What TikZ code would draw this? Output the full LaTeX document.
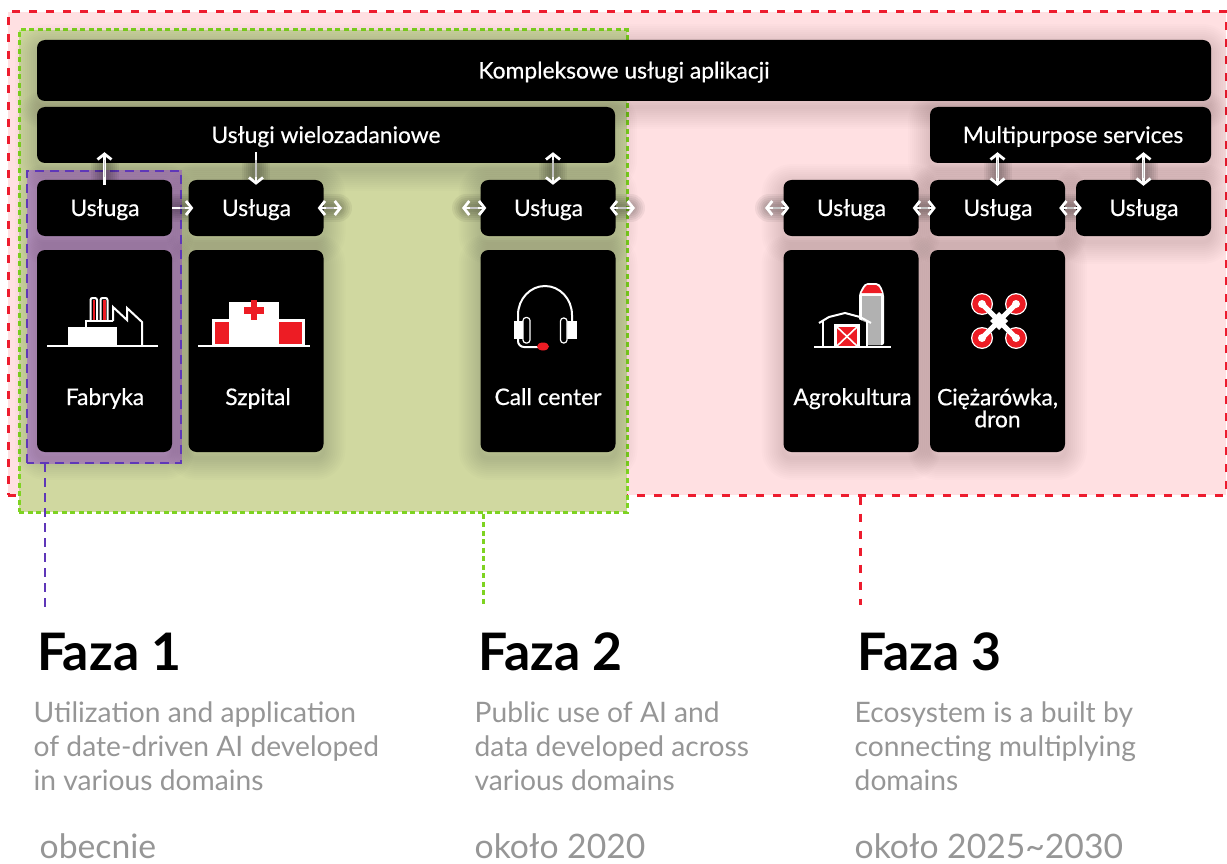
\documentclass[tikz,border=0pt]{standalone}
\usepackage{fontspec}
\setmainfont{Lato}
\newfontfamily\boxfont{Lato}[RawFeature={embolden=0.5}]
\usetikzlibrary{arrows.meta}
\definecolor{redline}{RGB}{237,28,46}
\definecolor{greenline}{RGB}{126,211,33}
\definecolor{purpleline}{RGB}{95,55,184}
\definecolor{redfill}{RGB}{255,224,226}
\definecolor{greenfill}{RGB}{208,216,160}
\definecolor{purplefill}{RGB}{192,150,202}
\definecolor{graytext}{RGB}{150,150,150}
\definecolor{iconred}{RGB}{237,28,36}
\tikzset{
	softbox/.style={preaction={draw=black, fill=none, opacity=.01, line width=#1pt, line join=round, transform canvas={yshift=-6pt}}},
	softlink/.style={preaction={draw=black, opacity=.05, line width=#1pt, line cap=round, -, shorten <=4pt, shorten >=4pt}},
	box/.style={fill=black, rounded corners=8pt, text=white, font=\boxfont\fontsize{22.8}{24}\selectfont, align=center, inner sep=0pt, text height=20pt, text depth=4pt, softbox/.list={44,40,36,32,28,24,20,16,12,8,4}},
	uslugabox/.style={box, minimum width=135pt, minimum height=56pt},
	domainbox/.style={box, minimum width=135pt, minimum height=202pt},
	boxlabel/.style={text=white, font=\boxfont\fontsize{22.8}{22}\selectfont, align=center, inner sep=0pt},
	link/.style={draw=white, line width=2.6pt, arrows={Straight Barb[length=5.5pt,width=14pt,line width=2.8pt]-Straight Barb[length=5.5pt,width=14pt,line width=2.8pt]}, softlink/.list={28,24,20,16,12,8}, postaction={draw=gray!45, line width=1.2pt, -, shorten <=8pt, shorten >=8pt}},
	linkr/.style={link, arrows={-Straight Barb[length=5.5pt,width=14pt,line width=2.8pt]}},
	fazatitle/.style={anchor=base west, inner sep=0pt, font=\fontsize{51.7}{54}\selectfont\bfseries},
	fazatext/.style={anchor=north west, inner sep=0pt, text=graytext, align=left, font=\fontsize{28.2}{34}\selectfont},
	fazadate/.style={anchor=base west, inner sep=0pt, text=graytext, font=\fontsize{33.7}{34}\selectfont},
	iconline/.style={draw=white, line width=2pt},
}
\begin{document}
\begin{tikzpicture}[x=1pt, y=-1pt]
	
	\useasboundingbox (0,0) rectangle (1227,864);
	
	\node[draw=redline, line width=3pt, dash pattern=on 8pt off 9pt, fill=redfill, minimum width=1218pt, minimum height=483pt, inner sep=0pt] (phase3) at (617,253.5) {};
	\node[draw=greenline, line width=3pt, dash pattern=on 5pt off 3.5pt, fill=greenfill, minimum width=608pt, minimum height=482pt, inner sep=0pt] (phase2) at (323,271) {};
	\node[draw=purplefill, line width=0pt, fill=purplefill, minimum width=154pt, minimum height=292pt, inner sep=0pt] (phase1) at (104,317) {};
	
	\coordinate (end1) at (45,607);
	\coordinate (end2) at (483.5,605);
	\coordinate (end3) at (860,605);
	\draw[greenline, line width=3pt, dash pattern=on 5pt off 3.5pt] (end2 |- phase2.south) -- (end2);
	\draw[redline, line width=3pt, dash pattern=on 8pt off 9pt] (end3 |- phase3.south) -- (end3);
	
	\node[box, minimum width=1174pt, minimum height=61pt] (allapps) at (624,70.5) {Kompleksowe usługi aplikacji};
	\node[box, minimum width=578pt, minimum height=56pt] (multi1) at (326,135) {Usługi wielozadaniowe};
	\node[box, minimum width=281pt, minimum height=56pt] (multi2) at (1070.5,135) {\hspace*{5pt}Multipurpose services};
	
	\node[uslugabox] (us1) at (104.5,208) {\hspace*{1pt}Usługa};
	\node[uslugabox] (us2) at (256,208) {\hspace*{1pt}Usługa};
	\node[uslugabox] (us3) at (548,208) {\hspace*{1pt}Usługa};
	\node[uslugabox] (us4) at (851,208) {\hspace*{1pt}Usługa};
	\node[uslugabox] (us5) at (997.5,208) {\hspace*{1pt}Usługa};
	\node[uslugabox] (us6) at (1143.5,208) {\hspace*{1pt}Usługa};
	
	\node[domainbox] (dom1) at (104.5,351) {};
	\node[domainbox] (dom2) at (256,351) {};
	\node[domainbox] (dom3) at (548,351) {};
	\node[domainbox] (dom4) at (851,351) {};
	\node[domainbox] (dom5) at (997.5,351) {};
	
	\draw[purpleline, line width=2.6pt, dash pattern=on 9pt off 6pt] (phase1.south west) rectangle (phase1.north east);
	\draw[purpleline, line width=2.6pt, dash pattern=on 9pt off 6pt] (end1 |- phase1.south) -- (end1);
	
	\node[boxlabel, anchor=base] (lab1) at (105,405) {Fabryka};
	\node[boxlabel, anchor=base] (lab2) at (258,405) {Szpital};
	\node[boxlabel, anchor=base] (lab3) at (548,405) {Call center};
	\node[boxlabel, anchor=base] (lab4) at (852.5,405) {Agrokultura};
	\node[boxlabel] (lab5) at (997.5,408) {Ciężarówka,\\dron};
	
	\coordinate (free2) at (342,208);
	\coordinate (free3) at (462,208);
	\coordinate (free4) at (635,208);
	\coordinate (free5) at (765,208);
	
	\draw[linkr] ([yshift=-5pt]us1.north) -- ([yshift=11pt]us1.north |- multi1.south);
	\draw[linkr] ([yshift=11pt]us2.north |- multi1.south) -- ([yshift=-5pt]us2.north);
	\draw[link] ([xshift=5pt,yshift=11pt]us3.north |- multi1.south) -- ([xshift=5pt,yshift=-5pt]us3.north);
	\draw[link] ([yshift=11pt]us5.north |- multi2.south) -- ([yshift=-6pt]us5.north);
	\draw[link] ([yshift=11pt]us6.north |- multi2.south) -- ([yshift=-6pt]us6.north);
	
	\draw[linkr] (us1.east) -- ([xshift=5pt]us2.west);
	\draw[link] ([xshift=-6pt]us2.east) -- (free2);
	\draw[link] (free3) -- ([xshift=6pt]us3.west);
	\draw[link] ([xshift=-6pt]us3.east) -- (free4);
	\draw[link] (free5) -- ([xshift=6pt]us4.west);
	\draw[link] ([xshift=-6pt]us4.east) -- ([xshift=6pt]us5.west);
	\draw[link] ([xshift=-6pt]us5.east) -- ([xshift=6pt]us6.west);
	
	\draw[iconline] (47,345.5) -- (158,345.5);
	\fill[white] (68,327) rectangle (117,345);
	\draw[iconline] (86,327) -- (86,321) -- (113,321);
	\draw[iconline, rounded corners=2pt] (90.5,321) -- (90.5,298) -- (97,298) -- (97,321);
	\draw[iconline, rounded corners=2pt] (100.5,321) -- (100.5,298) -- (107.5,298) -- (107.5,321);
	\fill[iconred] (92.5,300) rectangle (95,320);
	\fill[iconred] (102.5,300) rectangle (105.5,320);
	\draw[iconline, line join=miter] (113,321) -- (113,307) -- (127,320) -- (127,308) -- (142,322) -- (142,345);
	
	\draw[iconline] (198,345.5) -- (310,345.5);
	\fill[white] (229,302) rectangle (279,345);
	\fill[white] (212,319) rectangle (305,345);
	\fill[iconred] (215,321.5) rectangle (229,344);
	\fill[iconred] (279,321.5) rectangle (302,344);
	\fill[iconred] (244,307) rectangle (264,314);
	\fill[iconred] (251,300) rectangle (257,320);
	
	\draw[iconline] (518,321) -- (518,315) arc[start angle=180, end angle=0, x radius=27pt, y radius=29pt] -- (572,321);
	\fill[white] (514,321) rectangle (524,339);
	\fill[white] (566,321) rectangle (576.5,339);
	\draw[draw=white, line width=1.2pt, fill=black, rounded corners=3pt] (523,317.5) rectangle (530,343);
	\draw[draw=white, line width=1.2pt, fill=black, rounded corners=3pt] (560.5,318) rectangle (567,343);
	\draw[iconline, rounded corners=6pt] (518,339) -- (518,347) -- (540,347);
	\fill[iconred] (543,346.5) ellipse[x radius=6pt, y radius=4pt];
	
	\fill[white, rounded corners=2pt] (859,345) -- (859,294) -- (863,286) -- (866,283) -- (878,283) -- (881,286) -- (884,294) -- (884,345) -- cycle;
	\fill[graytext!60!white!92!black] (862,296) rectangle (881,345);
	\fill[iconred] (861.5,293) -- (865,287) -- (867,285) -- (876,285) -- (879,287) -- (882,293) -- cycle;
	\fill[black] (823,323) -- (845,313) -- (867,323) -- (867,347) -- (823,347) -- cycle;
	\draw[iconline] (819,323) -- (829,317) -- (845,313) -- (860,317) -- (871,323);
	\draw[iconline] (823,320) -- (823,347);
	\draw[iconline] (867,320) -- (867,347);
	\draw[iconline] (814,347) -- (891,347);
	\fill[white] (834,324) rectangle (860,347);
	\fill[iconred] (837,327) rectangle (857,346);
	\draw[white, line width=1.6pt] (837,327) -- (857,346);
	\draw[white, line width=1.6pt] (857,327) -- (837,346);
	
	\foreach \dx/\dy in {982/304, 1016/304, 982/338, 1016/338} {
		\fill[white] (\dx,\dy) circle[radius=11pt];
		\fill[iconred] (\dx,\dy) circle[radius=9.7pt];
		\fill[white] (\dx,\dy) circle[radius=4pt];
		\draw[white, line width=5pt] (999,321) -- (\dx,\dy);
	}
	\fill[white] (999,312) -- (1008,321) -- (999,330) -- (990,321) -- cycle;
	
	\node[fazatitle] (t1) at (37,670) {Faza 1};
	\node[fazatitle] (t2) at (478,670) {Faza 2};
	\node[fazatitle] (t3) at (857,670) {Faza 3};
	
	\node[fazatext] (d1) at (33.5,702) {Utilization and application\\of date-driven AI developed\\in various domains};
	\node[fazatext] (d2) at (474.5,702) {Public use of AI and\\data developed across\\various domains};
	\node[fazatext] (d3) at (854.5,702) {Ecosystem is a built by\\connecting multiplying\\domains};
	
	\node[fazadate] (y1) at (39.5,858) {obecnie};
	\node[fazadate] (y2) at (474.5,858) {około 2020};
	\node[fazadate] (y3) at (854.5,858) {około 2025\textasciitilde2030};
	
\end{tikzpicture}
\end{document}
